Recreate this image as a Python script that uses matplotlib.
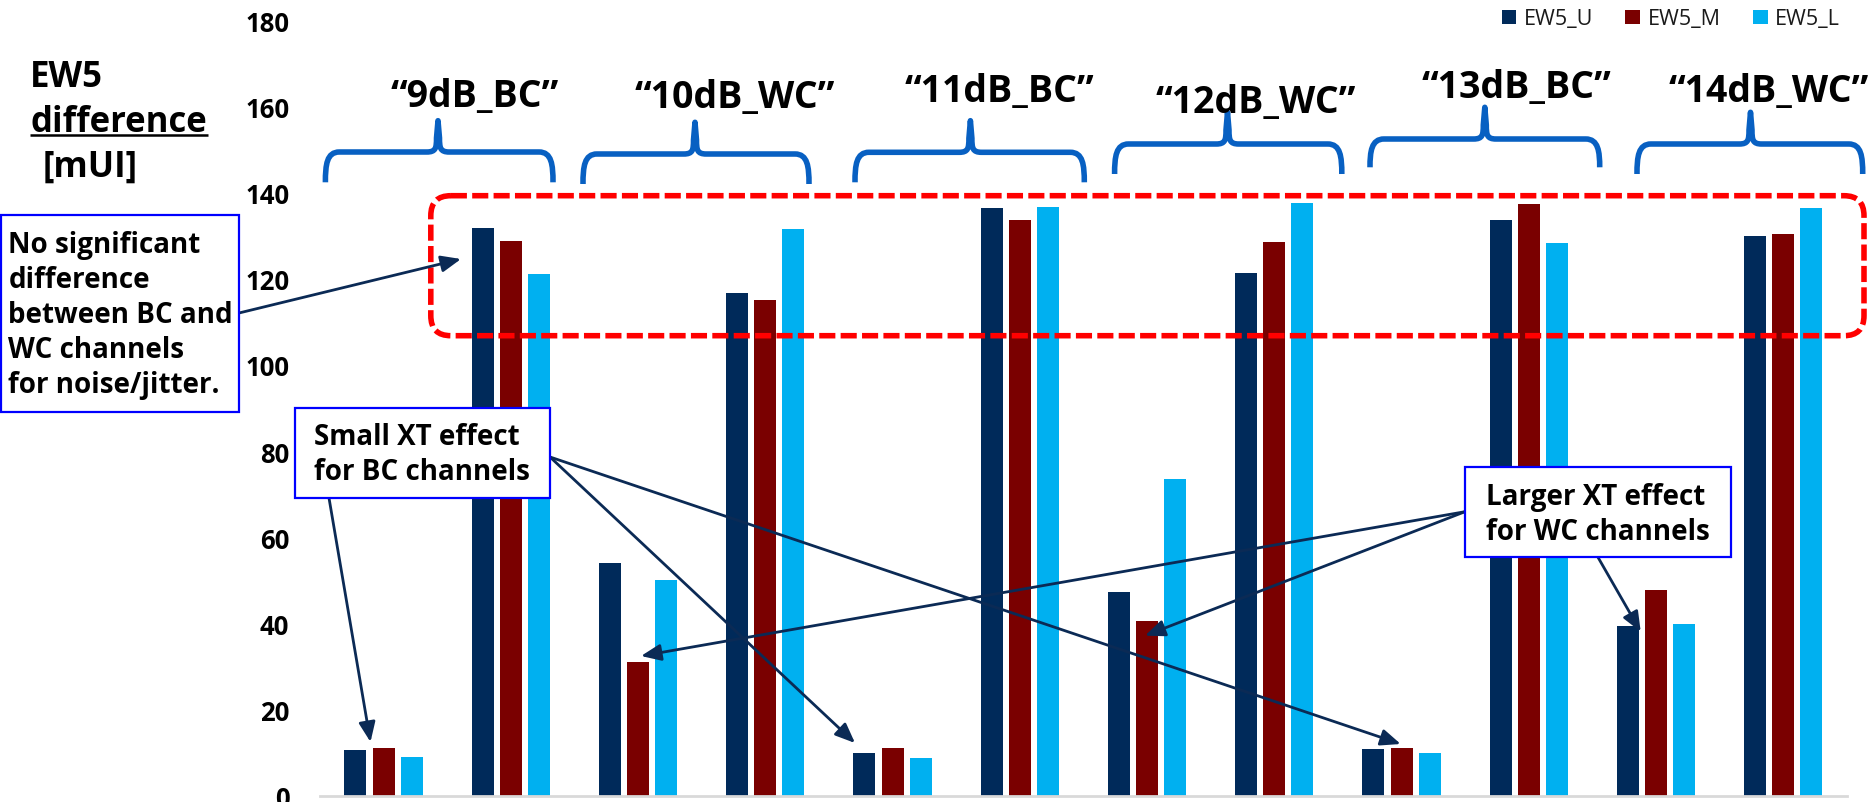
import matplotlib
matplotlib.use("Agg")
import matplotlib.pyplot as plt
from matplotlib.patches import FancyBboxPatch, PathPatch, Rectangle
from matplotlib.path import Path
import numpy as np

# ---------------- data ----------------
conditions = ["“9dB_BC”", "“10dB_WC”", "“11dB_BC”", "“12dB_WC”", "“13dB_BC”", "“14dB_WC”"]
cases = ["XT", "noise/jitter"]
categories = [f"{c} {k}" for c in conditions for k in cases]

series_names = ["EW5_U", "EW5_M", "EW5_L"]
ew5_u = [10.7, 131.8, 54.0, 116.6, 10.0, 136.4, 47.4, 121.3, 10.8, 133.7, 39.4, 129.9]
ew5_m = [11.2, 128.8, 31.0, 115.0, 11.1, 133.7, 40.5, 128.5, 11.1, 137.4, 47.7, 130.3]
ew5_l = [9.0, 121.0, 50.1, 131.6, 8.9, 136.7, 73.5, 137.7, 10.0, 128.2, 39.9, 136.4]
y_ticks = [0, 20, 40, 60, 80, 100, 120, 140, 160, 180]

colors = ["#002A5A", "#7A0000", "#00B0F0"]
NAVY = "#0B2A55"
BRACE = "#0860C2"
FONT = ["Open Sans", "DejaVu Sans"]
plt.rcParams["font.family"] = FONT

W, H, DPI = 1872, 803, 100
fig = plt.figure(figsize=(W / DPI, H / DPI), dpi=DPI)

# main axes: pixel geometry
ax_left, ax_right = 319.9, 1846.9
y0_px, ymax_px = 797.0, 797.0 - 180 * 4.31
ax = fig.add_axes([ax_left / W, (H - y0_px) / H, (ax_right - ax_left) / W, (y0_px - ymax_px) / H])

x = np.arange(len(categories))
bw = 0.173
off = 0.221
for i, (vals, col, name) in enumerate(zip([ew5_u, ew5_m, ew5_l], colors, series_names)):
    ax.bar(x + (i - 1) * off, vals, width=bw, color=col, label=name, zorder=2)

ax.set_xlim(-0.5, len(categories) - 0.5)
ax.set_ylim(0, 180)
ax.set_yticks(y_ticks)
ax.set_yticklabels([str(t) for t in y_ticks], fontsize=18.5, fontweight="bold")
ax.tick_params(axis="y", length=0, pad=22)
ax.set_xticks([])
for s in ["left", "right", "top"]:
    ax.spines[s].set_visible(False)
ax.spines["bottom"].set_color("#d9d9d9")
ax.spines["bottom"].set_linewidth(2.0)

leg = ax.legend(loc="center right", bbox_to_anchor=(1840 / W, 1 - 20 / H),
                bbox_transform=fig.transFigure, ncol=3, frameon=False, fontsize=15.5,
                handlelength=0.68, handleheight=0.68, handletextpad=0.35,
                columnspacing=1.5, borderaxespad=0, borderpad=0)
for t in leg.get_texts():
    t.set_color("#1a1a1a")

# ---------------- overlay (pixel coords, y down) ----------------
ov = fig.add_axes([0, 0, 1, 1], zorder=5)
ov.set_xlim(0, W)
ov.set_ylim(H, 0)
ov.axis("off")
ov.patch.set_alpha(0)

# axis title
ov.text(30, 87.3, "EW5", fontsize=25, fontweight="bold", va="baseline", ha="left")
ov.text(30, 131.7, "difference", fontsize=25, fontweight="bold", va="baseline", ha="left")
ov.plot([30, 207.6], [136, 136], color="black", lw=1.8, solid_capstyle="butt")
ov.text(42.4, 176.5, "[mUI]", fontsize=25, fontweight="bold", va="baseline", ha="left")

# red dashed rounded rectangle
rr = FancyBboxPatch((430.8, 196.7), 1864 - 430.8, 336.7 - 196.7,
                    boxstyle="round,pad=0,rounding_size=20", fill=False,
                    ec="#FF0000", lw=4, ls=(0, (2.9, 0.95)), capstyle="butt")
ov.add_patch(rr)

# braces
def brace(x0, x1, xt, yt, yh, yb, r=14):
    verts = [
        (x0, yb),
        (x0, yh + r * 0.9), (x0 + r * 0.1, yh), (x0 + r, yh),
        (xt - r * 0.8, yh),
        (xt - r * 0.15, yh), (xt - 1.5, yh - r * 0.3), (xt - 1.5, yh - r),
        (xt, yt),
        (xt + 1.5, yh - r),
        (xt + 1.5, yh - r * 0.3), (xt + r * 0.15, yh), (xt + r * 0.8, yh),
        (x1 - r, yh),
        (x1 - r * 0.1, yh), (x1, yh + r * 0.9), (x1, yb),
    ]
    C4, L = Path.CURVE4, Path.LINETO
    codes = [Path.MOVETO, C4, C4, C4, L, C4, C4, C4, L, L, C4, C4, C4, L, C4, C4, C4]
    ov.add_patch(PathPatch(Path(verts, codes), fill=False, ec=BRACE, lw=4,
                           capstyle="butt", joinstyle="round"))

brace_geo = [
    (325.4, 553.0, 438.0, 121.7, 153.0, 183.3),
    (583.0, 809.0, 695.0, 123.3, 155.0, 185.0),
    (855.0, 1084.3, 970.4, 121.7, 153.3, 183.3),
    (1114.6, 1341.8, 1227.5, 113.3, 145.0, 175.0),
    (1370.0, 1599.7, 1484.8, 108.3, 140.0, 168.3),
    (1637.0, 1862.7, 1750.5, 113.3, 145.0, 175.0),
]
for g in brace_geo:
    brace(*g)

label_pos = [(474.6, 106.7), (735.0, 108.0), (999.6, 101.7), (1256.0, 113.3), (1516.6, 98.3), (1769.0, 101.7)]
for lab, (lx, ly) in zip(conditions, label_pos):
    ov.text(lx, ly, lab, fontsize=27, fontweight="bold", ha="center", va="baseline")

# arrows
def arrow(start, tip):
    ov.annotate("", xy=tip, xytext=start, xycoords="data", textcoords="data",
                arrowprops=dict(arrowstyle="-|>,head_length=1.2,head_width=0.5",
                                mutation_scale=10, color=NAVY, lw=2.0,
                                shrinkA=0, shrinkB=0))

arrow((239, 314), (461, 260))
arrow((329, 499), (370.5, 743))
arrow((550, 458), (855, 744))
arrow((550, 458), (1400.7, 745))
arrow((1465, 512.7), (641, 657))
arrow((1465, 512.7), (1145, 636.7))
arrow((1598, 558.3), (1640.7, 632.7))

# annotation boxes
def box(x0, y0, x1, y1, lines, tx, baselines, fs=20):
    ov.add_patch(Rectangle((x0, y0), x1 - x0, y1 - y0, fc="white", ec="#0000FF", lw=1.6, zorder=3))
    for ln, b in zip(lines, baselines):
        ov.text(tx, b, ln, fontsize=fs, fontweight="bold", ha="left", va="baseline", zorder=4)

box(1, 215.7, 239, 413,
    ["No significant", "difference", "between BC and", "WC channels", "for noise/jitter."],
    8.4, [253.3, 288.3, 323.3, 358.3, 393.3])
box(294.6, 409, 550, 499, ["Small XT effect", "for BC channels"], 313.8, [445, 480])
box(1465, 467.7, 1731, 558.3, ["Larger XT effect", "for WC channels"], 1486, [505, 540])

fig.savefig("out.png", dpi=DPI)
